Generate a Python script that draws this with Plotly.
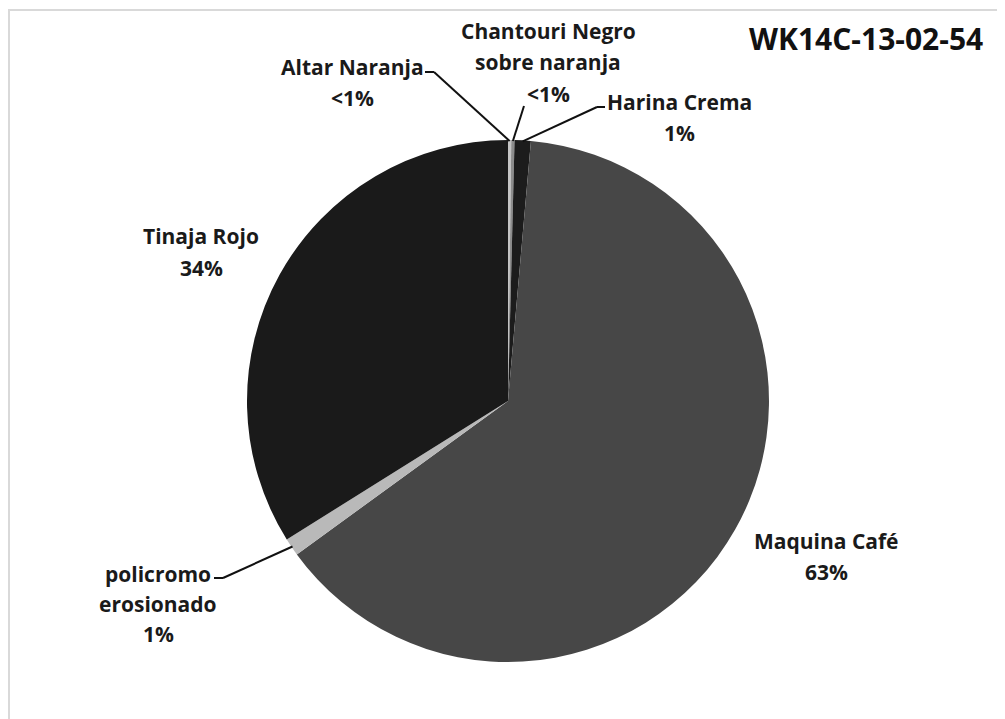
import math
import plotly.graph_objects as go

# ---- data ----
categories = ["Altar Naranja", "Chantouri Negro sobre naranja", "Harina Crema",
              "Maquina Café", "policromo erosionado", "Tinaja Rojo"]
values = [0.2, 0.2, 1.0, 63.6, 1.1, 33.9]
pct_labels = ["<1%", "<1%", "1%", "63%", "1%", "34%"]
label_lines = [["Altar Naranja"], ["Chantouri Negro", "sobre naranja"], ["Harina Crema"],
               ["Maquina Café"], ["policromo", "erosionado"], ["Tinaja Rojo"]]
colors = ["#c4c4c4", "#8c8c8c", "#1c1c1c", "#474747", "#b9b9b9", "#1a1a1a"]
title_text = "WK14C-13-02-54"

# page body has an 8px margin; figure sits at (8, 8)
OFF = 8
W, H = 1005 - OFF, 719 - OFF
CX, CY, R = 508, 401, 261  # pie centre / radius in page pixels

def px(x):
    return (x - OFF) / W

def py(y):
    return 1 - (y - OFF) / H

fig = go.Figure(go.Pie(
    labels=categories, values=values, sort=False, direction="clockwise",
    rotation=0, marker=dict(colors=colors, line=dict(width=0)),
    textinfo="none", showlegend=False,
    domain=dict(x=[px(CX - R), px(CX + R)], y=[py(CY + R), py(CY - R)]),
))

FONT = dict(family="Open Sans, sans-serif", size=21, color="#1a1a1a", weight="bold")

# label placements: (centre x, first line centre y, line spacing) in page px
label_pos = [(352, 66, 31), (548, 30, 31.5), (679, 101, 31), (826, 540, 31),
             (158, 573, 30), (201, 235, 32)]
leader = [
    [(434, 72), (425, 72)],
    [(524, 106)],
    [(597, 107), (605, 107)],
    None,
    [(223, 578), (214, 578)],
    None,
]

total = sum(values)
cum = 0
shapes = []
for i, v in enumerate(values):
    mid = (cum + v / 2) / total * 2 * math.pi
    cum += v
    lines = label_lines[i] + [pct_labels[i]]
    lx, ly, dy = label_pos[i]
    for k, t in enumerate(lines):
        fig.add_annotation(x=px(lx), y=py(ly + k * dy + 1), xref="paper", yref="paper",
                           text=t, showarrow=False, font=FONT,
                           xanchor="center", yanchor="middle")
    if leader[i]:
        sx = CX + (R - 1) * math.sin(mid)
        sy = CY - (R - 1) * math.cos(mid)
        pts = [(sx, sy)] + leader[i]
        for (x0, y0), (x1, y1) in zip(pts[:-1], pts[1:]):
            shapes.append(dict(type="line", xref="paper", yref="paper",
                               x0=px(x0), y0=py(y0), x1=px(x1), y1=py(y1),
                               line=dict(color="#111111", width=2)))

# outer chart border (top/left visible)
shapes.append(dict(type="rect", xref="paper", yref="paper",
                   x0=px(9), y0=-0.05, x1=1.05, y1=py(10),
                   line=dict(color="#d9d9d9", width=2), layer="below"))

fig.add_annotation(x=px(866), y=py(39), xref="paper", yref="paper", text=title_text,
                   showarrow=False, xanchor="center", yanchor="middle",
                   font=dict(family="Open Sans, sans-serif", size=30,
                             color="#111111", weight="bold"))

fig.update_layout(width=W, height=H, margin=dict(l=0, r=0, t=0, b=0),
                  paper_bgcolor="white", plot_bgcolor="white", shapes=shapes)

fig.write_html("out.html")
